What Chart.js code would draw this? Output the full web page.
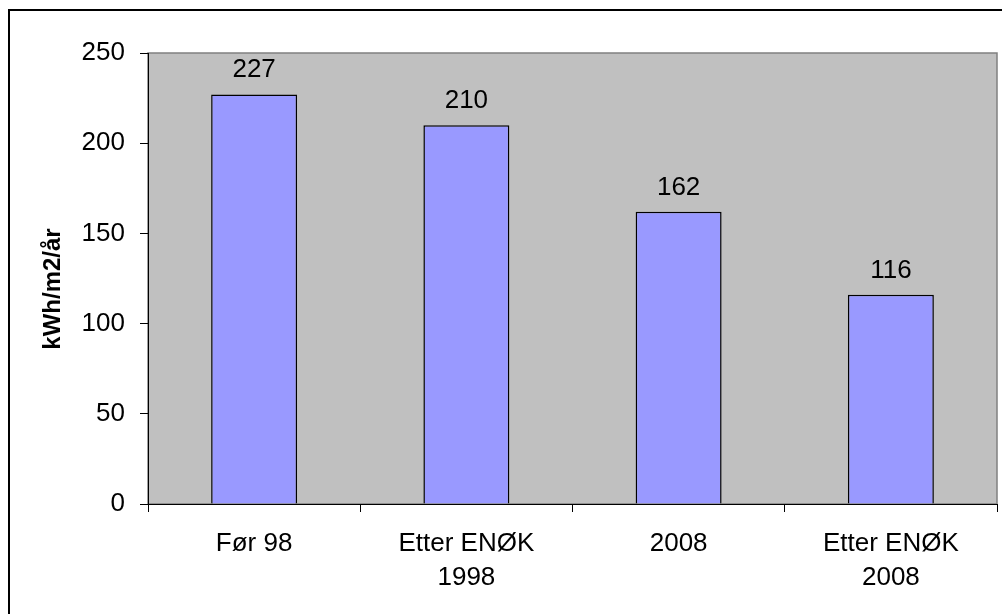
<!DOCTYPE html>
<html>
<head>
<meta charset="utf-8">
<script src="https://cdn.jsdelivr.net/npm/chart.js@4"></script>
<style>
  html, body { margin:0; padding:0; background:#fff; overflow:hidden; }
  #wrap { position:relative; width:1002px; height:614px; }
  #frame { position:absolute; left:8px; top:9px; width:1100px; height:700px; border:2px solid #000; box-sizing:border-box; }
  #c { position:absolute; left:0; top:0; }
</style>
</head>
<body>
<div id="wrap">
  <div id="frame"></div>
  <canvas id="c" width="1002" height="614"></canvas>
</div>
<script>
const categories = [['Før 98'], ['Etter ENØK', '1998'], ['2008'], ['Etter ENØK', '2008']];
const values = [227, 210, 162, 116];
const yTicks = [0, 50, 100, 150, 200, 250];
const yTitle = 'kWh/m2/år';

const FONT = "'Liberation Sans', Arial, sans-serif";

// grey plot area with a thin grey frame
const plotArea = {
  id: 'plotArea',
  beforeDraw(chart) {
    const {ctx, chartArea:a} = chart;
    ctx.save();
    ctx.fillStyle = '#C0C0C0';
    ctx.fillRect(a.left, a.top, a.right-a.left, a.bottom-a.top);
    ctx.strokeStyle = '#808080';
    ctx.lineWidth = 1.5;
    ctx.strokeRect(a.left, a.top, a.right-a.left, a.bottom-a.top);
    ctx.restore();
  }
};

// value above each bar + y title (placed like the original, a bit below centre)
const barLabels = {
  id: 'barLabels',
  afterDatasetsDraw(chart) {
    const {ctx} = chart;
    ctx.save();
    ctx.font = '26px ' + FONT;
    ctx.fillStyle = '#000';
    ctx.textAlign = 'center';
    ctx.textBaseline = 'alphabetic';
    chart.getDatasetMeta(0).data.forEach((bar, i) => {
      ctx.fillText(String(values[i]), bar.x, bar.y - 17);
    });
    ctx.translate(53, 289);
    ctx.rotate(-Math.PI/2);
    ctx.font = 'bold 24px ' + FONT;
    ctx.textBaseline = 'middle';
    ctx.fillText(yTitle, 0, 0);
    ctx.restore();
  }
};

new Chart(document.getElementById('c'), {
  type: 'bar',
  data: {
    labels: categories,
    datasets: [{
      data: values,
      backgroundColor: '#9999FF',
      borderColor: '#000',
      borderWidth: 1.5,
      categoryPercentage: 1,
      barPercentage: 0.405
    }]
  },
  options: {
    responsive: false,
    animation: false,
    layout: { padding: { left: 38, top: 53, right: 5, bottom: 0 } },
    plugins: { legend: { display:false }, tooltip: { enabled:false } },
    scales: {
      x: {
        afterFit: s => { s.height = 110; },
        grid: { drawOnChartArea:false, drawTicks:true, tickLength:8, color:'#000', offset:true },
        border: { color:'#000', width:1 },
        ticks: { color:'#000', padding:15, maxRotation:0, autoSkip:false, font:{ family:FONT, size:26, lineHeight:'34px' } }
      },
      y: {
        min: 0, max: 250,
        afterFit: s => { s.width = 110; },
        afterBuildTicks: s => { s.ticks = yTicks.map(v => ({ value:v })); },
        grid: { drawOnChartArea:false, drawTicks:true, tickLength:8, color:'#000' },
        border: { color:'#000', width:1 },
        ticks: { color:'#000', padding:15, font:{ family:FONT, size:26 } }
      }
    }
  },
  plugins: [plotArea, barLabels]
});
</script>
</body>
</html>
